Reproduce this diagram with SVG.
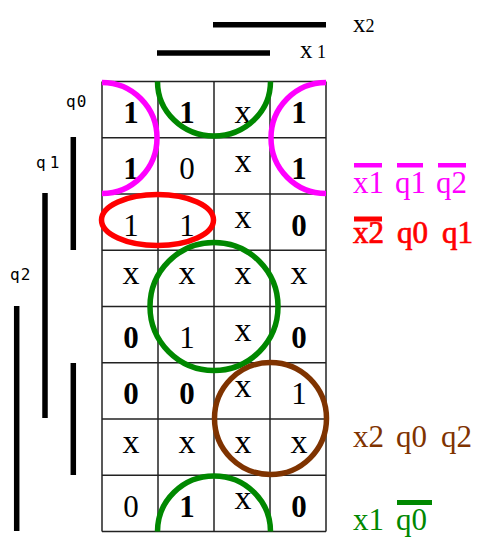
<svg xmlns="http://www.w3.org/2000/svg" width="482" height="539" viewBox="0 0 482 539">
<style>
.grid line{stroke:#222;stroke-width:1.5}
.bar{stroke:#000;stroke-width:5.5}
.c{font-family:"Liberation Serif","Times New Roman",serif;font-size:31px;text-anchor:middle;fill:#000}
.b{font-weight:bold}
.x{font-size:34px}
.lab{font-family:"Liberation Serif","Times New Roman",serif;fill:#000}
.ql{font-family:"DejaVu Sans Mono","Liberation Mono",monospace;font-size:16px;fill:#000}
.eq{font-family:"Liberation Serif","Times New Roman",serif;font-size:31px}
.loop{fill:none;stroke-width:5.5}
</style>
<rect width="482" height="539" fill="#fff"/>
<g id="grid" class="grid">
<line x1="102" y1="81.5" x2="102" y2="531.5"/>
<line x1="158" y1="81.5" x2="158" y2="531.5"/>
<line x1="214" y1="81.5" x2="214" y2="531.5"/>
<line x1="270" y1="81.5" x2="270" y2="531.5"/>
<line x1="326" y1="81.5" x2="326" y2="531.5"/>
<line x1="102" y1="81.5" x2="326" y2="81.5"/>
<line x1="102" y1="137.75" x2="326" y2="137.75"/>
<line x1="102" y1="194" x2="326" y2="194"/>
<line x1="102" y1="250.25" x2="326" y2="250.25"/>
<line x1="102" y1="306.5" x2="326" y2="306.5"/>
<line x1="102" y1="362.75" x2="326" y2="362.75"/>
<line x1="102" y1="419" x2="326" y2="419"/>
<line x1="102" y1="475.25" x2="326" y2="475.25"/>
<line x1="102" y1="531.5" x2="326" y2="531.5"/>
</g>
<g id="cells">
<text class="c b" x="131" y="123">1</text><text class="c b" x="187" y="123">1</text><text class="c x" x="243" y="123">x</text><text class="c b" x="299" y="123">1</text>
<text class="c b" x="131" y="179.25">1</text><text class="c" x="187" y="179.25">0</text><text class="c x" x="243" y="171.75">x</text><text class="c b" x="299" y="179.25">1</text>
<text class="c" x="131" y="235.5">1</text><text class="c" x="187" y="235.5">1</text><text class="c x" x="243" y="228">x</text><text class="c b" x="299" y="235.5">0</text>
<text class="c x" x="131" y="284.25">x</text><text class="c x" x="187" y="284.25">x</text><text class="c x" x="243" y="284.25">x</text><text class="c x" x="299" y="284.25">x</text>
<text class="c b" x="131" y="348">0</text><text class="c" x="187" y="348">1</text><text class="c x" x="243" y="340.5">x</text><text class="c b" x="299" y="348">0</text>
<text class="c b" x="131" y="404.25">0</text><text class="c b" x="187" y="404.25">0</text><text class="c x" x="243" y="396.75">x</text><text class="c" x="299" y="404.25">1</text>
<text class="c x" x="131" y="453">x</text><text class="c x" x="187" y="453">x</text><text class="c x" x="243" y="453">x</text><text class="c x" x="299" y="453">x</text>
<text class="c" x="131" y="516.75">0</text><text class="c b" x="187" y="516.75">1</text><text class="c x" x="243" y="509.25">x</text><text class="c b" x="299" y="516.75">0</text>
</g>
<g id="var-x2">
<line class="bar" x1="213" y1="24.7" x2="326" y2="24.7"/>
<text class="lab" x="353" y="32" font-size="25">x<tspan font-size="18">2</tspan></text>
</g>
<g id="var-x1">
<line class="bar" x1="157" y1="53" x2="270" y2="53"/>
<text class="lab" x="300" y="58" font-size="25">x<tspan x="317" font-size="18">1</tspan></text>
</g>
<g id="var-q0">
<text class="ql" x="66" y="107" letter-spacing="1">q0</text>
<line class="bar" x1="73.3" y1="137" x2="73.3" y2="250"/>
<line class="bar" x1="73.3" y1="363" x2="73.3" y2="475"/>
</g>
<g id="var-q1">
<text class="ql" x="36" y="168" letter-spacing="4">q1</text>
<line class="bar" x1="45" y1="193" x2="45" y2="418"/>
</g>
<g id="var-q2">
<text class="ql" x="10" y="280" letter-spacing="1">q2</text>
<line class="bar" x1="16.7" y1="306" x2="16.7" y2="531"/>
</g>
<g id="loops">
<path class="loop" stroke="#ff00ff" d="M102,82.5 A55,55.5 0 0 1 102,193.5"/>
<path class="loop" stroke="#ff00ff" d="M326,82.5 A55,55.5 0 0 0 326,193.5"/>
<path class="loop" stroke="#008800" d="M157.5,81.5 A56.5,54.5 0 0 0 270.5,81.5"/>
<ellipse class="loop" stroke="#ff0000" cx="157.5" cy="220" rx="56" ry="25.5"/>
<circle class="loop" stroke="#008800" cx="214" cy="306.5" r="64"/>
<circle class="loop" stroke="#7f3300" cx="270.5" cy="418.5" r="56"/>
<path class="loop" stroke="#008800" d="M157.5,531.5 A56.5,55.5 0 0 1 270.5,531.5"/>
</g>
<g id="eq-magenta" fill="#ff00ff">
<text class="eq" y="193"><tspan x="353">x1</tspan><tspan x="395">q1</tspan><tspan x="436">q2</tspan></text>
<rect x="354" y="163" width="28" height="4.5"/>
<rect x="397" y="163" width="26" height="4.5"/>
<rect x="438" y="163" width="28" height="4.5"/>
</g>
<g id="eq-red" fill="#ff0000">
<text class="eq" y="243" font-size="29" stroke="#ff0000" stroke-width="0.7"><tspan x="353">x2</tspan><tspan x="397">q0</tspan><tspan x="442">q1</tspan></text>
<rect x="354" y="216.5" width="28" height="5"/>
</g>
<g id="eq-brown" fill="#7f3300">
<text class="eq" y="447"><tspan x="353">x2</tspan><tspan x="396">q0</tspan><tspan x="441">q2</tspan></text>
</g>
<g id="eq-green" fill="#008800">
<text class="eq" y="530"><tspan x="353">x1</tspan><tspan x="396">q0</tspan></text>
<rect x="397" y="500" width="35" height="5"/>
</g>
</svg>
